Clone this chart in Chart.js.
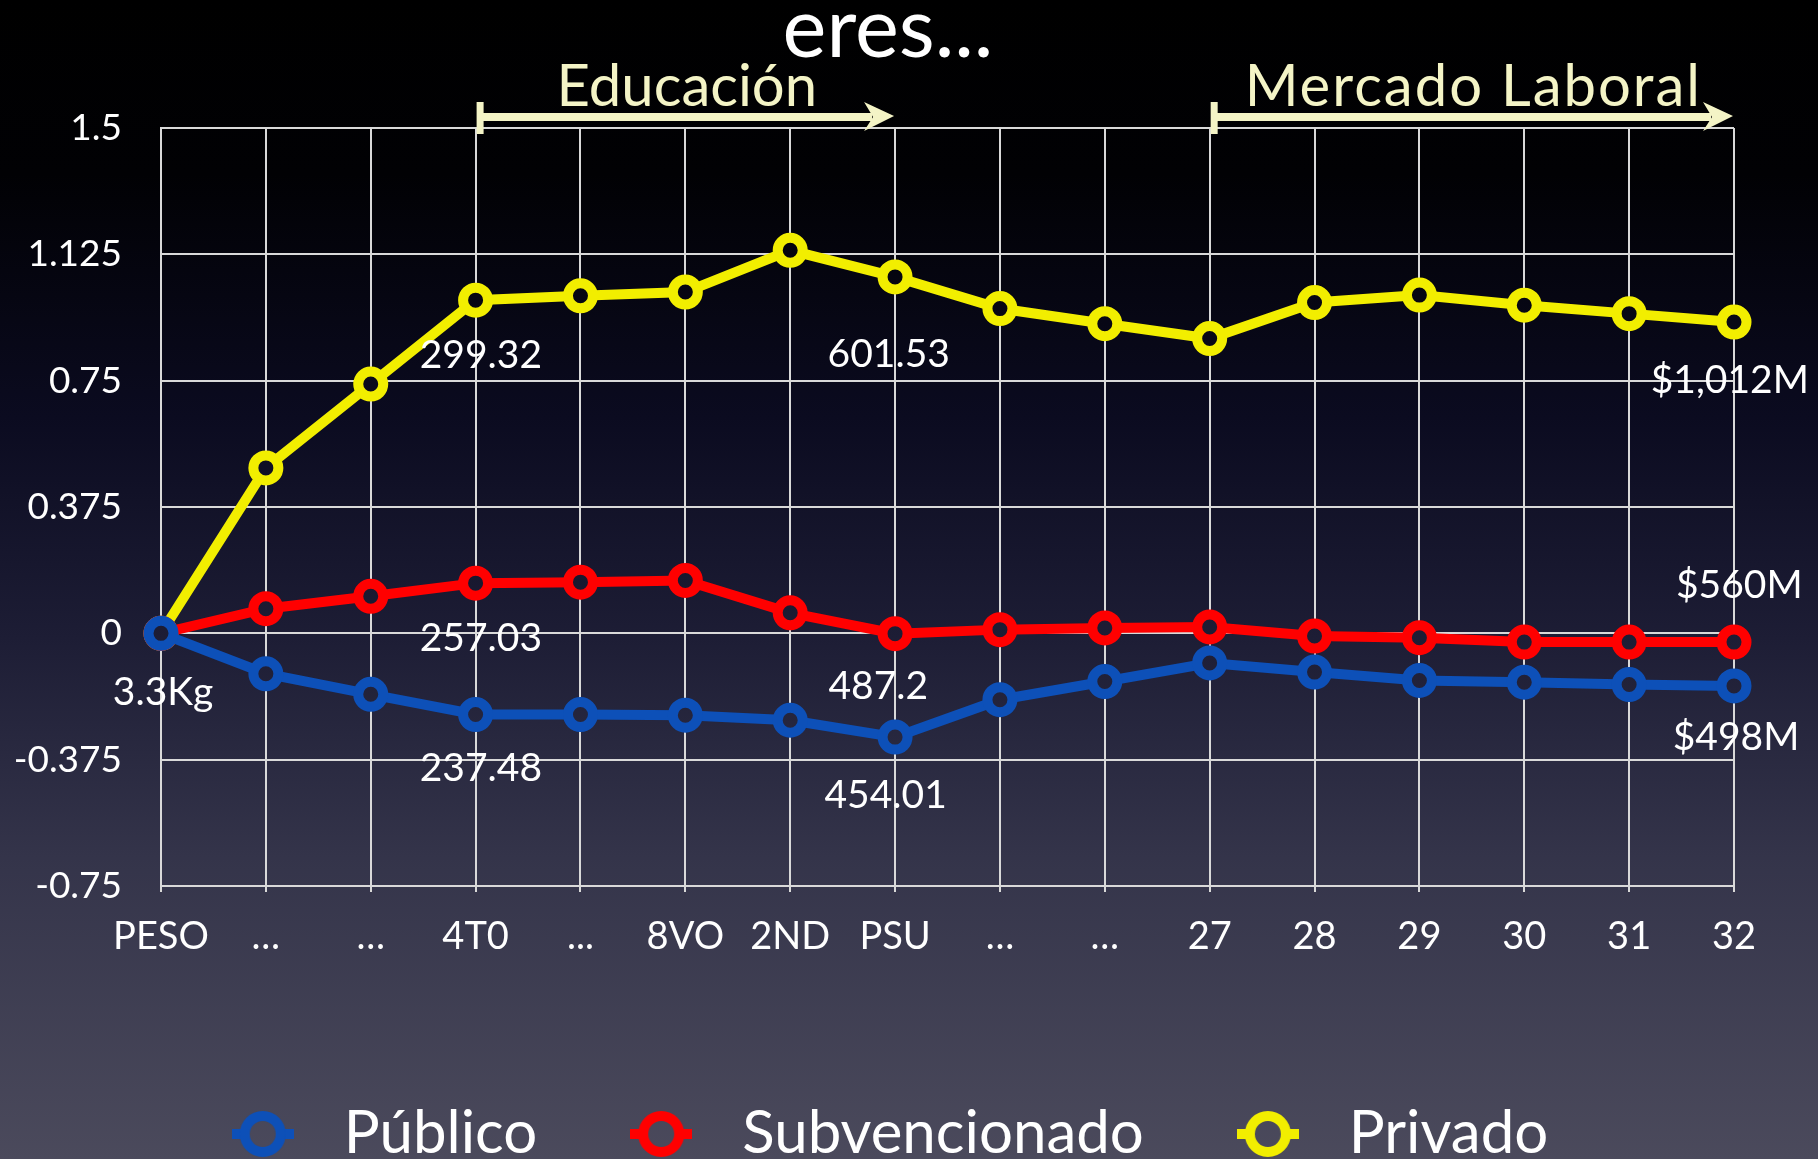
<!DOCTYPE html>
<html>
<head>
<meta charset="utf-8">
<title>eres...</title>
<script src="https://cdn.jsdelivr.net/npm/chart.js@4.4.1/dist/chart.umd.min.js"></script>
<style>
  html, body { margin: 0; padding: 0; background: #000; overflow: hidden; }
  #wrap { width: 1818px; height: 1159px; }
</style>
</head>
<body>
<div id="wrap"><canvas id="chart"></canvas></div>
<script>
// --- DATA ---
const categories = ['PESO', '…', '…', '4T0', '...', '8VO', '2ND', 'PSU', '…', '…', '27', '28', '29', '30', '31', '32'];
const publico = [0, -0.120, -0.181, -0.241, -0.241, -0.243, -0.258, -0.308, -0.197, -0.143, -0.088, -0.115, -0.140, -0.145, -0.152, -0.156];
const subvencionado = [0, 0.073, 0.110, 0.149, 0.152, 0.157, 0.061, -0.001, 0.011, 0.016, 0.019, -0.008, -0.013, -0.026, -0.026, -0.026];
const privado = [0, 0.491, 0.740, 0.989, 1.002, 1.013, 1.137, 1.058, 0.964, 0.919, 0.875, 0.982, 1.004, 0.974, 0.949, 0.924];
const yTickLabels = ['-0.75', '-0.375', '0', '0.375', '0.75', '1.125', '1.5'];
const seriesNames = ['Público', 'Subvencionado', 'Privado'];

// figures written on the chart, anchored at (category index, value)
const noteTexts = ['3.3Kg', '299.32', '257.03', '237.48', '601.53', '487.2', '454.01', '$1,012M', '$560M', '$498M'];
const noteIndex = [0.02, 3.05, 3.05, 3.05, 6.94, 6.84, 6.91, 14.96, 15.05, 15.02];
const noteValue = [-0.175, 0.825, -0.015, -0.400, 0.828, -0.157, -0.481, 0.751, 0.143, -0.309];

// the two stages marked with arrows above the plot
const sectionNames = ['Educación', 'Mercado Laboral'];
const sectionFrom = [3, 10];
const sectionTo = [7, 15];

// --- STYLE ---
const seriesColors = ['#0d50b8', '#ff0000', '#f2ee00'];
const gridColor = '#d9d9d9';
const paleYellow = '#f4f4c6';
const FONT = 'Lato';

// slide background, also used to fill the holes of the markers
let bgCache = null;
function pageGradient(chart) {
  if (bgCache && bgCache.h === chart.height) return bgCache.g;
  const g = chart.ctx.createLinearGradient(0, 0, 0, chart.height);
  g.addColorStop(0, '#000000');
  g.addColorStop(0.15, '#010104');
  g.addColorStop(0.36, '#0b0b20');
  g.addColorStop(0.55, '#1d1d35');
  g.addColorStop(0.74, '#34344a');
  g.addColorStop(1, '#4b4a5c');
  bgCache = {h: chart.height, g};
  return g;
}

// legend marker: ring with a short piece of line on each side
function ringMark(color) {
  const c = document.createElement('canvas');
  c.width = 62;
  c.height = 50;
  const g = c.getContext('2d');
  g.fillStyle = color;
  g.fillRect(0, 20, 12, 10);
  g.fillRect(50, 20, 12, 10);
  g.strokeStyle = color;
  g.lineWidth = 10;
  g.beginPath();
  g.arc(31, 25, 18, 0, Math.PI * 2);
  g.stroke();
  return c;
}
const legendMarks = seriesColors.map(ringMark);

const backdrop = {
  id: 'backdrop',
  beforeDraw(chart) {
    const ctx = chart.ctx;
    ctx.save();
    ctx.fillStyle = pageGradient(chart);
    ctx.fillRect(0, 0, chart.width, chart.height);
    ctx.restore();
  }
};

const overlay = {
  id: 'overlay',
  afterDraw(chart) {
    const {ctx, chartArea} = chart;
    const xs = chart.scales.x, ys = chart.scales.y;
    ctx.save();
    ctx.textAlign = 'center';

    // end of the slide title
    ctx.fillStyle = '#ffffff';
    ctx.textBaseline = 'alphabetic';
    ctx.font = '83px ' + FONT;
    ctx.fillText('eres...', 888, 57);

    // section arrows
    ctx.fillStyle = paleYellow;
    const ay = chartArea.top - 11;
    sectionNames.forEach((name, i) => {
      const x0 = xs.getPixelForValue(sectionFrom[i]) + 4;
      const x1 = xs.getPixelForValue(sectionTo[i]) - 1;
      ctx.fillRect(x0 - 3, ay - 15, 7, 32);
      ctx.fillRect(x0, ay - 4, x1 - x0 - 22, 8);
      ctx.beginPath();
      ctx.moveTo(x1, ay - 1);
      ctx.lineTo(x1 - 30, ay - 15);
      ctx.lineTo(x1 - 21, ay);
      ctx.lineTo(x1 - 30, ay + 14);
      ctx.closePath();
      ctx.fill();
      ctx.font = '58px ' + FONT;
      ctx.letterSpacing = i === 1 ? '2px' : '0px';
      ctx.fillText(name, (x0 + x1) / 2, chartArea.top - 22);
    });
    ctx.letterSpacing = '0px';

    // figures
    ctx.fillStyle = '#ffffff';
    ctx.textBaseline = 'middle';
    ctx.font = '39px ' + FONT;
    noteTexts.forEach((t, i) => {
      ctx.fillText(t, xs.getPixelForValue(noteIndex[i]), ys.getPixelForValue(noteValue[i]));
    });
    ctx.restore();
  }
};

new Chart(document.getElementById('chart'), {
  type: 'line',
  data: {
    labels: categories,
    datasets: [publico, subvencionado, privado].map((values, i) => ({
      label: seriesNames[i],
      data: values,
      borderColor: seriesColors[i],
      backgroundColor: seriesColors[i],
      pointBorderColor: seriesColors[i],
      pointBackgroundColor: c => pageGradient(c.chart),
      borderWidth: 10,
      pointRadius: 12.5,
      pointHoverRadius: 12.5,
      pointBorderWidth: 10,
      tension: 0,
      clip: false
    }))
  },
  options: {
    responsive: true,
    maintainAspectRatio: false,
    animation: false,
    layout: { padding: { left: 0, right: 58, top: 128, bottom: -15 } },
    scales: {
      x: {
        grid: { color: gridColor, lineWidth: 2, tickLength: 6, tickColor: gridColor },
        border: { color: gridColor, width: 2 },
        ticks: {
          color: '#ffffff',
          font: { family: FONT, size: 38 },
          padding: 22,
          maxRotation: 0,
          autoSkip: false
        },
        afterFit: s => { s.height = 145; }
      },
      y: {
        min: -0.75,
        max: 1.5,
        grid: { color: gridColor, lineWidth: 2, drawTicks: false },
        border: { color: gridColor, width: 2 },
        ticks: {
          stepSize: 0.375,
          color: '#ffffff',
          font: { family: FONT, size: 37 },
          padding: 39,
          callback: (v, i) => yTickLabels[i]
        },
        afterFit: s => { s.width = 161; }
      },
      // empty margin on the right of the plot, keeps the legend centred like the slide
      yMargin: {
        position: 'right',
        grid: { display: false },
        border: { display: false },
        ticks: { display: false },
        afterFit: s => { s.width = 26; }
      }
    },
    plugins: {
      legend: {
        position: 'bottom',
        labels: {
          usePointStyle: true,
          pointStyleWidth: 102,
          padding: 73,
          color: '#ffffff',
          font: { family: FONT, size: 60 },
          generateLabels: chart => Chart.defaults.plugins.legend.labels.generateLabels(chart)
            .map((item, i) => Object.assign(item, { pointStyle: legendMarks[i] }))
        }
      },
      tooltip: { enabled: false }
    }
  },
  plugins: [backdrop, overlay]
});
</script>
</body>
</html>
